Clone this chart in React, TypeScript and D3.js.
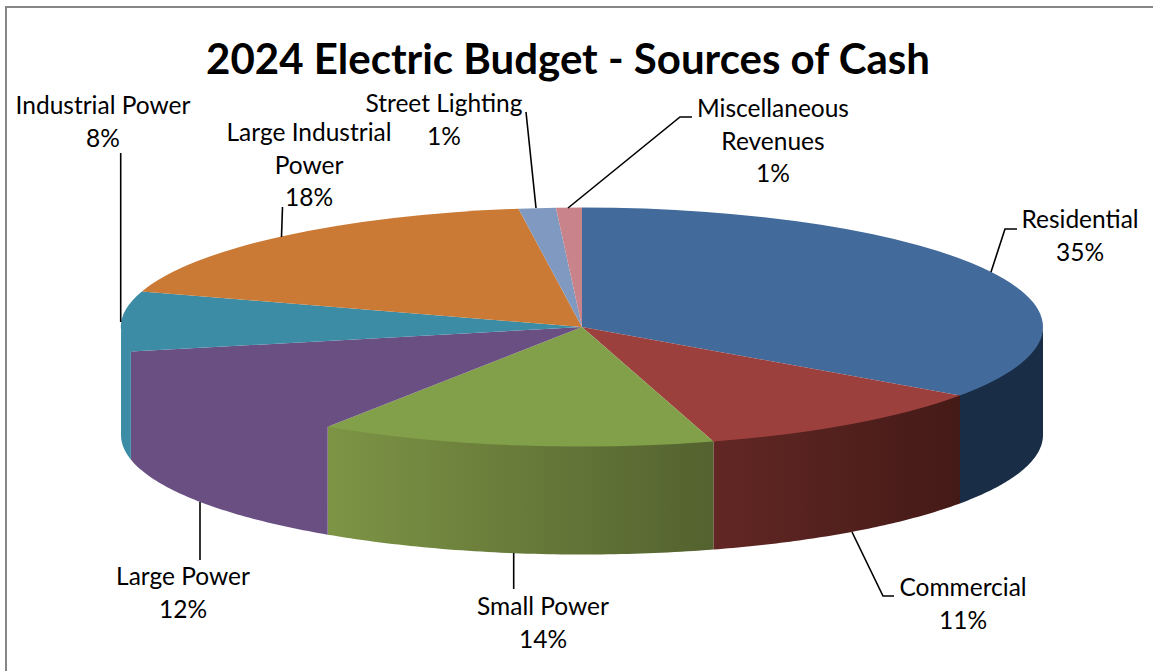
import React from "react";
import * as d3 from "d3";

const title = "2024 Electric Budget - Sources of Cash";
const categories = ["Residential", "Commercial", "Small Power", "Large Power", "Industrial Power", "Large Industrial Power", "Street Lighting", "Miscellaneous Revenues"];
const shares = [34.7, 10.7, 13.9, 12.4, 8.1, 18.0, 1.3, 0.9];
const topColors = ["#426a9b", "#9c403e", "#82a04a", "#6a4f82", "#3c8ca6", "#cb7a35", "#8099c0", "#c8848a"];
const wallFrom = ["#1a2d46", "#622724", "#7d9445", "#6a4f82", "#3c8ca6", "#cb7a35", "#8099c0", "#c8848a"];
const wallTo = ["#1a2d46", "#441a17", "#53622f", "#6a4f82", "#3c8ca6", "#cb7a35", "#8099c0", "#c8848a"];

// Wrapped label lines, with their centre and first baseline
const labelLines = [
  ["Residential"],
  ["Commercial"],
  ["Small Power"],
  ["Large Power"],
  ["Industrial Power"],
  ["Large Industrial", "Power"],
  ["Street Lighting"],
  ["Miscellaneous", "Revenues"],
];
const labelX = [1080, 963, 543, 183, 103, 309, 444, 773];
const labelY = [228, 596, 615, 585, 114, 141, 112, 117];

// Leader polylines from each label to its slice
const leaders: [number, number][][] = [
  [[1017, 229], [1005, 229], [991, 272]],
  [[852, 532], [883, 596], [894, 596]],
  [[513.7, 553], [513.7, 589]],
  [[200, 502], [200, 560]],
  [[120.7, 153], [120.7, 322]],
  [[282.5, 207], [281.5, 237]],
  [[526, 112], [536, 208]],
  [[692, 117], [680, 117], [568, 208]],
];

const W = 1153;
const H = 671;
const cx = 582;
const cy = 327;
const rx = 461;
const ry = 119.5;
const depth = 108;
const fontFamily = "Lato, 'Open Sans', sans-serif";

const pie = d3.pie<number>().sort(null).value((d) => d);
const slices = pie(shares);
const arc = d3.arc<d3.PieArcDatum<number>>().innerRadius(0).outerRadius(rx);

const px = (t: number) => cx + rx * Math.sin(t);
const py = (t: number) => cy - ry * Math.cos(t);

// Outline of the visible front wall for an angular range; its upper edge
// tucks under the top face so no background shows along the seam
function wallPath(a0: number, a1: number): string | null {
  const lo = Math.max(a0, Math.PI / 2);
  const hi = Math.min(a1, (3 * Math.PI) / 2);
  if (hi <= lo) return null;
  const ts = d3.range(0, 61).map((i) => lo + ((hi - lo) * i) / 60);
  const upper = ts.map((t) => [px(t), py(t) - 1.5] as [number, number]);
  const lower = ts.slice().reverse().map((t) => [px(t), py(t) + depth] as [number, number]);
  return d3.line()([...upper, ...lower]) + "Z";
}

export default function App() {
  const walls = slices
    .map((s, i) => ({ i, d: wallPath(s.startAngle, s.endAngle), s }))
    .filter((w) => w.d);
  return (
    <svg
      width={W}
      height={H}
      viewBox={`0 0 ${W} ${H}`}
      style={{ position: "absolute", left: 0, top: 0, background: "#fff" }}
      fontFamily={fontFamily}
    >
      <defs>
        {walls.map(({ i, s }) => {
          const lo = Math.max(s.startAngle, Math.PI / 2);
          const hi = Math.min(s.endAngle, (3 * Math.PI) / 2);
          return (
            <linearGradient
              key={i}
              id={`wall-${i}`}
              gradientUnits="userSpaceOnUse"
              x1={px(hi)}
              x2={px(lo)}
              y1={0}
              y2={0}
            >
              <stop offset="0" stopColor={wallFrom[i]} />
              <stop offset="1" stopColor={wallTo[i]} />
            </linearGradient>
          );
        })}
      </defs>
      {/* Chart frame: only its top and left edges fall inside the canvas */}
      <path d={`M6,${H}V7H${W}`} fill="none" stroke="#868686" strokeWidth={2} />
      <text x={568} y={74} textAnchor="middle" fontSize={42} fontWeight={700} fill="#000">
        {title}
      </text>
      {walls.map(({ i, d }) => (
        <path key={i} d={d as string} fill={`url(#wall-${i})`} />
      ))}
      <g transform={`translate(${cx},${cy}) scale(1,${ry / rx})`}>
        {slices.map((s, i) => (
          <path key={i} d={arc(s) as string} fill={topColors[i]} />
        ))}
      </g>
      {leaders.map((pts, i) => (
        <path key={i} d={d3.line()(pts) as string} fill="none" stroke="#000" strokeWidth={1.6} />
      ))}
      {categories.map((c, i) => {
        const lines = [...labelLines[i], `${Math.round(shares[i])}%`];
        return (
          <text key={c} textAnchor="middle" fontSize={24.5} fill="#000">
            {lines.map((line, k) => (
              <tspan key={k} x={labelX[i]} y={labelY[i] + k * 32.7}>
                {line}
              </tspan>
            ))}
          </text>
        );
      })}
    </svg>
  );
}
